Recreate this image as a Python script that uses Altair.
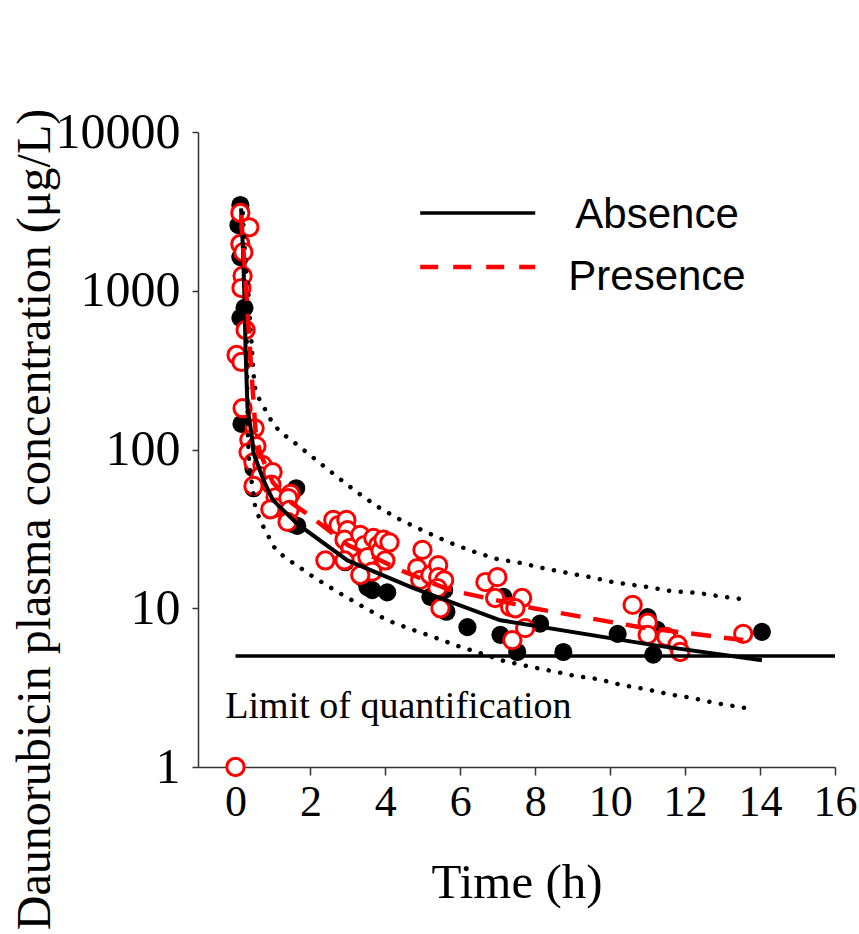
import altair as alt
import pandas as pd

# ---- observed concentrations ----
abs_x = [0.13, 0.08, 0.13, 0.24, 0.13, 0.16, 0.48, 0.48, 1.62, 1.65, 1.52, 3.01, 2.93, 3.52, 3.65,
         4.05, 3.40, 5.20, 5.57, 5.63, 6.19, 7.07, 7.52, 7.15, 8.13, 8.75, 10.2, 11.0, 11.25, 11.15, 14.05]
abs_y = [3470, 2590, 1630, 780, 675, 145, 76, 57, 57, 33, 34, 25, 19.5, 13.6, 13,
         12.6, 15.5, 11.8, 13, 9.5, 7.6, 6.8, 5.3, 11.8, 8.0, 5.3, 6.9, 8.8, 7.3, 5.1, 7.1]

pres_x = [0.13, 0.37, 0.13, 0.21, 0.19, 0.16, 0.27, 0.03, 0.16, 0.19, 0.51, 0.37, 0.56, 0.35, 0.48,
          0.72, 0.67, 0.99, 0.96, 0.48, 1.07, 1.07, 0.93, 1.47, 1.41, 1.44, 1.39,
          2.40, 2.61, 2.75, 2.96, 2.99, 2.91, 3.07, 2.91, 3.33, 3.44, 3.68, 3.81, 3.52, 3.87, 3.95,
          4.11, 4.00, 3.65, 3.33,
          4.99, 4.85, 4.93, 5.20, 5.41, 5.41, 5.57, 5.39, 5.47,
          6.67, 6.99, 6.93, 7.33, 7.65, 7.73, 7.39, 7.47,
          10.6, 11.0, 11.0, 11.5, 11.8, 11.87, 13.55, 0.0]
pres_y = [3090, 2510, 1970, 1750, 1240, 1040, 566, 394, 356, 182, 136, 115, 105, 96, 83,
          80, 68, 72, 60, 59, 50, 43, 42, 52.5, 49.4, 41.6, 35,
          20, 36, 33.4, 36, 31, 27, 24, 20, 29, 25, 27.7, 25, 21, 23, 27,
          26, 20, 17, 16.2,
          23.3, 17.9, 15.1, 16.2, 18.7, 15.7, 15, 13.4, 10.0,
          14.6, 15.7, 11.6, 10.2, 11.6, 7.5, 6.3, 10,
          10.5, 8.1, 6.8, 6.6, 5.9, 5.3, 6.9, 1.0]

# ---- model predictions ----
absfit_x = [0.15, 0.20, 0.24, 0.27, 0.32, 0.45, 0.48, 0.75, 1.0, 1.65, 2.99, 4.75, 7.07, 11.07, 14.05]
absfit_y = [3300, 1800, 900, 424, 185, 115, 95, 64, 48, 34, 20, 13.4, 8.4, 5.9, 4.7]

presfit_x = [0.15, 0.30, 0.40, 0.47, 0.53, 0.56, 0.70, 1.0, 1.5, 2.0, 3.0, 4.5, 5.73, 7.95, 10.8, 13.55]
presfit_y = [3000, 900, 382, 220, 136, 115, 90, 62, 46, 38, 25, 17, 13, 10, 7.6, 6.3]

upper_x = [0.19, 0.24, 0.29, 0.35, 0.40, 0.43, 0.45, 0.48, 0.53, 0.67, 0.85, 1.01, 1.31, 1.63, 1.92,
           2.59, 3.20, 3.81, 4.45, 5.09, 5.68, 6.32, 6.99, 7.60, 8.21, 8.85, 9.47, 10.08, 11.01,
           11.65, 12.32, 12.93, 13.55]
upper_y = [3090, 1860, 1312, 940, 566, 475, 394, 300, 237, 199, 170, 143, 123, 108, 95,
           71, 54.8, 43.4, 35.5, 30.2, 26.1, 22.9, 20.4, 19.3, 17.9, 16.7, 15.7, 14.6, 13.6,
           12.8, 12.5, 11.9, 11.4]

lower_x = [0.19, 0.24, 0.29, 0.31, 0.33, 0.37, 0.45, 0.53, 0.69, 0.85, 1.01, 1.20, 1.55, 2.16, 2.77,
           3.41, 4.05, 4.67, 5.28, 5.92, 6.53, 7.17, 7.79, 8.45, 9.07, 9.68, 10.32, 10.93, 11.55,
           12.19, 12.80, 13.44, 13.79]
lower_y = [3090, 1860, 1000, 300, 118, 82, 58, 43, 34.4, 29.4, 24.6, 22, 19.2, 15.3, 12.5,
           10.2, 8.4, 7.4, 6.6, 5.8, 5.22, 4.65, 4.32, 4.02, 3.74, 3.58, 3.28, 3.10, 2.88,
           2.72, 2.53, 2.39, 2.32]

loq_value = 5
loq_x = [0, 16]
loq_label = "Limit of quantification"

x_ticks = [0, 2, 4, 6, 8, 10, 12, 14, 16]
y_ticks = [1, 10, 100, 1000, 10000]
legend_names = ["Absence", "Presence"]

SERIF = "Liberation Serif"
SANS = "Liberation Sans"

xscale = alt.Scale(domain=[-1, 16], nice=False, zero=False)
yscale = alt.Scale(type="log", domain=[1, 10000], nice=False)

xaxis = alt.Axis(values=x_ticks, title="Time (h)", grid=False, labelFont=SERIF, labelFontSize=44,
                 labelColor="black", labelPadding=5, tickSize=8, tickWidth=1.5, tickColor="#333",
                 domainColor="#333", domainWidth=1.5, titleFont=SERIF, titleFontSize=49,
                 titleFontWeight="normal", titleColor="black", titleY=130, titleBaseline="alphabetic",
                 labelFlush=False, labelOverlap=False)
yaxis = alt.Axis(values=y_ticks, format="d", title="Daunorubicin plasma concentration (\u03bcg/L)",
                 grid=False, labelFont=SERIF, labelFontSize=50, labelColor="black", labelPadding=12,
                 tickSize=6, tickWidth=1.5, tickColor="#333", domainColor="#333", domainWidth=1.5,
                 titleFont=SERIF, titleFontSize=48, titleFontWeight="normal", titleColor="black",
                 titleX=-149, titleY=387, titleAlign="center", titleBaseline="alphabetic",
                 labelFlush=False, labelOverlap=False)

X = alt.X("x:Q", scale=xscale, axis=xaxis)
Y = alt.Y("y:Q", scale=yscale, axis=yaxis)

df_abs = pd.DataFrame({"x": abs_x, "y": abs_y})
df_pres = pd.DataFrame({"x": pres_x, "y": pres_y})
df_absfit = pd.DataFrame({"x": absfit_x, "y": absfit_y})
df_presfit = pd.DataFrame({"x": presfit_x, "y": presfit_y})
df_up = pd.DataFrame({"x": upper_x, "y": upper_y})
df_lo = pd.DataFrame({"x": lower_x, "y": lower_y})
df_loq = pd.DataFrame({"x": [loq_x[0]], "x2": [loq_x[1]], "y": [loq_value]})
df_loqtext = pd.DataFrame({"x": [-0.27], "y": [2.04], "t": [loq_label]})
df_leg_abs = pd.DataFrame({"x": [4.93], "x2": [8.0], "y": [3090]})
df_leg_pres = pd.DataFrame({"x": [4.93], "x2": [8.0], "y": [1413]})
df_leg_text = pd.DataFrame({"x": [11.25, 11.25], "y": [2485, 1011], "t": legend_names})

pts_abs = alt.Chart(df_abs).mark_point(shape="circle", filled=True, color="black", size=330, opacity=1).encode(x=X, y=Y)
pts_pres = alt.Chart(df_pres).mark_point(shape="circle", filled=False, fill="white", fillOpacity=1,
                                         stroke="#ff0000", strokeWidth=3, size=300, opacity=1).encode(x=X, y=Y)
line_up = alt.Chart(df_up).mark_line(color="black", strokeWidth=4.5, strokeDash=[0.1, 11.6], strokeCap="round").encode(x=X, y=Y)
line_lo = alt.Chart(df_lo).mark_line(color="black", strokeWidth=4.5, strokeDash=[0.1, 11.6], strokeCap="round").encode(x=X, y=Y)
line_abs = alt.Chart(df_absfit).mark_line(color="black", strokeWidth=4).encode(x=X, y=Y)
line_pres = alt.Chart(df_presfit).mark_line(color="#ff0000", strokeWidth=4.5, strokeDash=[20, 13]).encode(x=X, y=Y)
loq_rule = alt.Chart(df_loq).mark_rule(color="black", strokeWidth=3.5).encode(x=X, x2="x2:Q", y=Y)
loq_text = alt.Chart(df_loqtext).mark_text(font=SERIF, fontSize=38, align="left", baseline="alphabetic",
                                           color="black").encode(x=X, y=Y, text="t:N")
leg1 = alt.Chart(df_leg_abs).mark_rule(color="black", strokeWidth=3.5).encode(x=X, x2="x2:Q", y=Y)
leg2 = alt.Chart(df_leg_pres).mark_rule(color="#ff0000", strokeWidth=4.5, strokeDash=[18, 15]).encode(x=X, x2="x2:Q", y=Y)
leg_text = alt.Chart(df_leg_text).mark_text(font=SANS, fontSize=42, align="center", baseline="alphabetic",
                                            color="black").encode(x=X, y=Y, text="t:N")

chart = alt.layer(pts_abs, pts_pres, line_up, line_lo, line_abs, line_pres, loq_rule, loq_text,
                  leg1, leg2, leg_text).properties(
    width=637, height=635, autosize="none",
    padding={"left": 198, "top": 132, "right": 24, "bottom": 167},
    background="white",
).configure_view(stroke=None)

chart.save("out.html", embed_options={"renderer": "svg", "actions": False})
